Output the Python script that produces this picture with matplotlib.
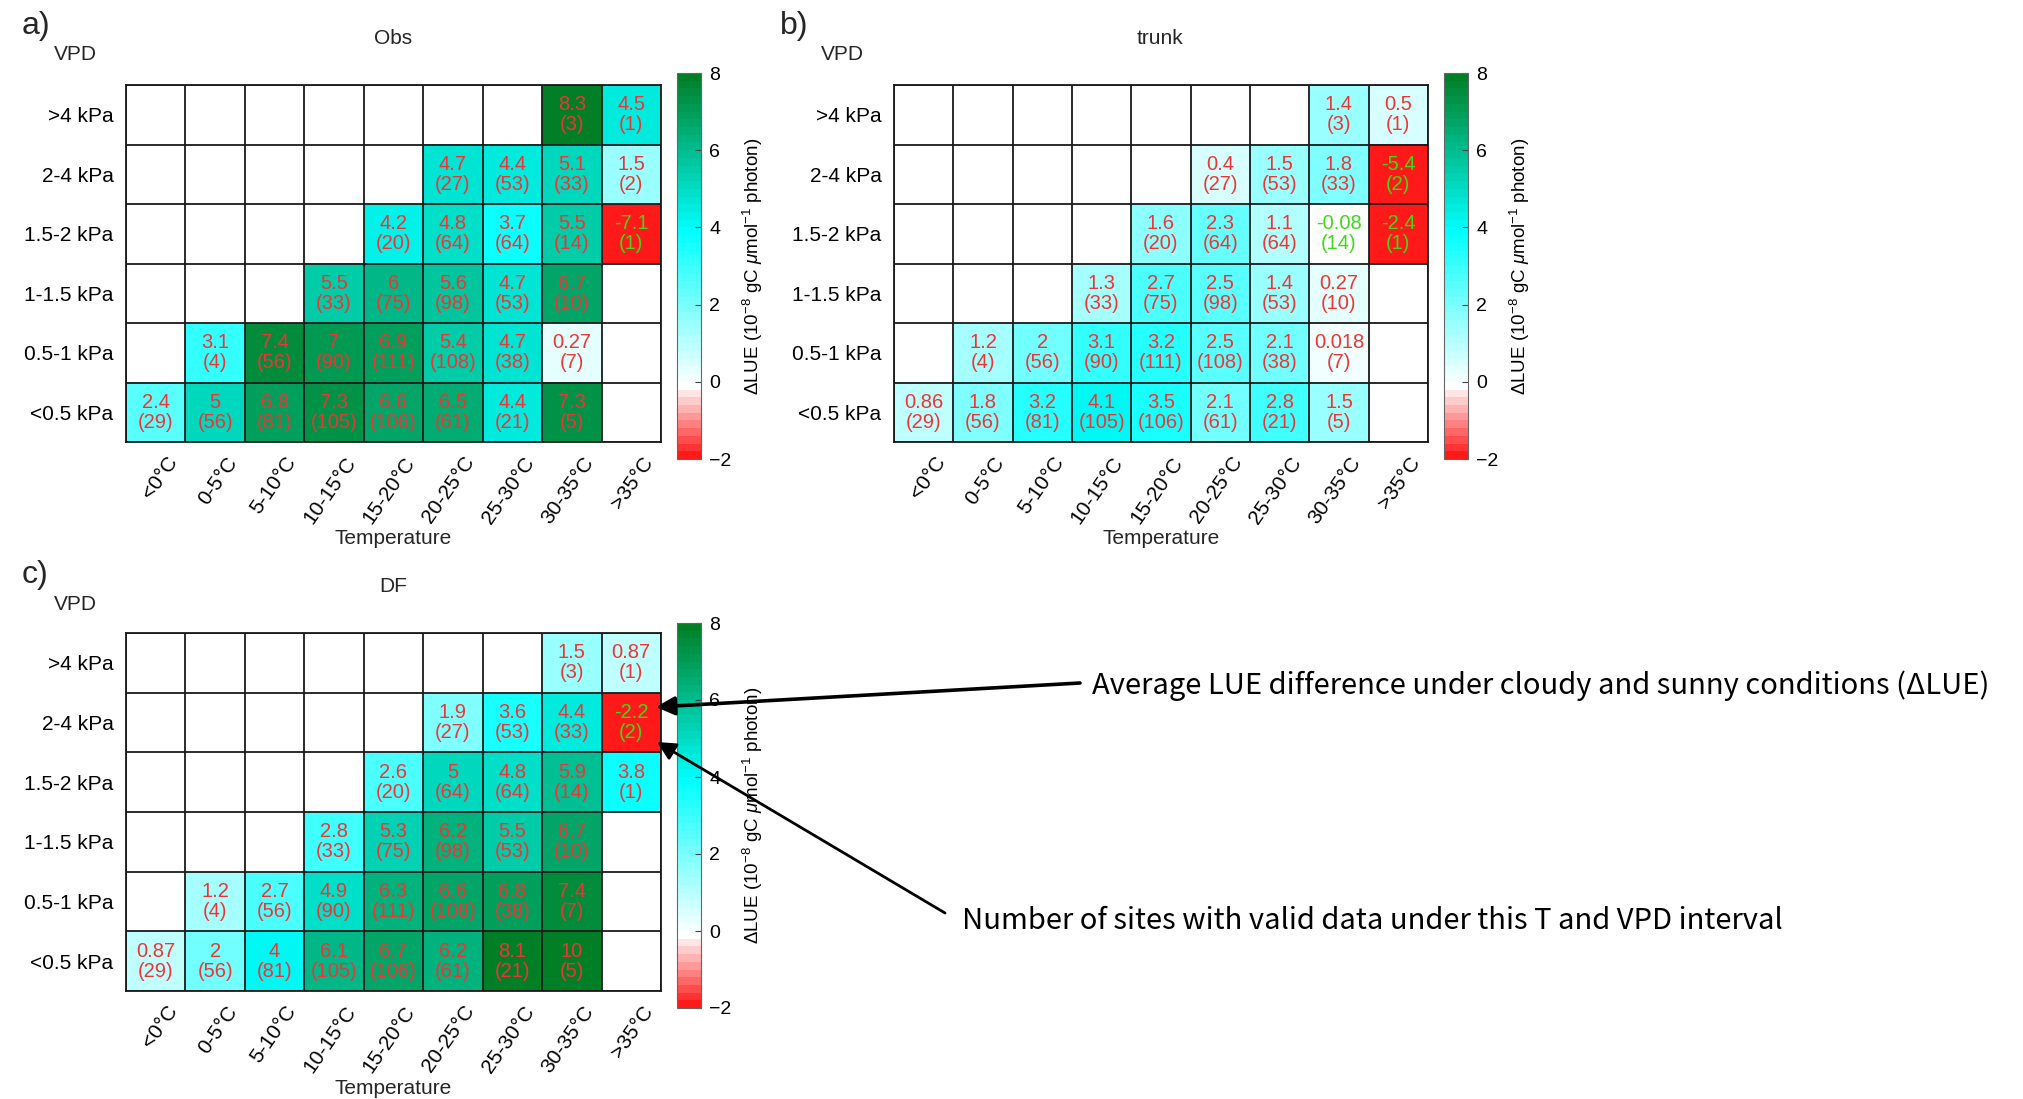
import numpy as np
import matplotlib
matplotlib.use('Agg')
import matplotlib.pyplot as plt
from matplotlib.colors import ListedColormap
import matplotlib.transforms as mtransforms

plt.rcParams['font.family'] = ['Liberation Sans', 'DejaVu Sans']
plt.rcParams['mathtext.fontset'] = 'custom'
plt.rcParams['mathtext.rm'] = 'Liberation Sans'
plt.rcParams['mathtext.it'] = 'Liberation Sans:italic'
plt.rcParams['text.color'] = '#262626'

# --- data ---
nan = np.nan
temp_labels = ['<0°C', '0-5°C', '5-10°C', '10-15°C', '15-20°C',
               '20-25°C', '25-30°C', '30-35°C', '>35°C']
vpd_labels = ['>4 kPa', '2-4 kPa', '1.5-2 kPa', '1-1.5 kPa', '0.5-1 kPa', '<0.5 kPa']

# number of sites (rows: VPD from high to low, cols: temperature)
site_counts = [
    [nan, nan, nan, nan, nan, nan, nan, 3, 1],
    [nan, nan, nan, nan, nan, 27, 53, 33, 2],
    [nan, nan, nan, nan, 20, 64, 64, 14, 1],
    [nan, nan, nan, 33, 75, 98, 53, 10, nan],
    [nan, 4, 56, 90, 111, 108, 38, 7, nan],
    [29, 56, 81, 105, 106, 61, 21, 5, nan],
]

obs_dlue = [
    [nan, nan, nan, nan, nan, nan, nan, 8.3, 4.5],
    [nan, nan, nan, nan, nan, 4.7, 4.4, 5.1, 1.5],
    [nan, nan, nan, nan, 4.2, 4.8, 3.7, 5.5, -7.1],
    [nan, nan, nan, 5.5, 6, 5.6, 4.7, 6.7, nan],
    [nan, 3.1, 7.4, 7, 6.9, 5.4, 4.7, 0.27, nan],
    [2.4, 5, 6.8, 7.3, 6.6, 6.5, 4.4, 7.3, nan],
]

trunk_dlue = [
    [nan, nan, nan, nan, nan, nan, nan, 1.4, 0.5],
    [nan, nan, nan, nan, nan, 0.4, 1.5, 1.8, -5.4],
    [nan, nan, nan, nan, 1.6, 2.3, 1.1, -0.08, -2.4],
    [nan, nan, nan, 1.3, 2.7, 2.5, 1.4, 0.27, nan],
    [nan, 1.2, 2, 3.1, 3.2, 2.5, 2.1, 0.018, nan],
    [0.86, 1.8, 3.2, 4.1, 3.5, 2.1, 2.8, 1.5, nan],
]

df_dlue = [
    [nan, nan, nan, nan, nan, nan, nan, 1.5, 0.87],
    [nan, nan, nan, nan, nan, 1.9, 3.6, 4.4, -2.2],
    [nan, nan, nan, nan, 2.6, 5, 4.8, 5.9, 3.8],
    [nan, nan, nan, 2.8, 5.3, 6.2, 5.5, 6.7, nan],
    [nan, 1.2, 2.7, 4.9, 6.3, 6.6, 6.8, 7.4, nan],
    [0.87, 2, 4, 6.1, 6.7, 6.2, 8.1, 10, nan],
]

# --- style ---
W, H = 2023, 1099
RED_TXT = '#f03434'
GREEN_TXT = '#3fd81c'

# 50 discrete levels over -2..8: 10 red->white, 40 white->cyan->green
red = np.array([1, 0.1, 0.1])
white = np.array([1, 1, 1])
cyan = np.array([0, 1, 1])
green = np.array([0, 0.5, 0.15])
cols = [red + (white - red) * t for t in np.linspace(0, 1, 10)]
cols += [white + (cyan - white) * t for t in np.linspace(0.05, 1, 20)]
cols += [cyan + (green - cyan) * t for t in np.linspace(0.05, 1, 20)]
cmap = ListedColormap(cols)
cmap.set_bad('white')


def fbox(left, top, right, bottom):
    return [left / W, 1 - bottom / H, (right - left) / W, (bottom - top) / H]


def draw_panel(fig, ax_box, cax_box, values, title, letter, title_x, letter_x, vpd_x, top):
    vals = np.array(values, dtype=float)
    counts = np.array(site_counts, dtype=float)
    ax = fig.add_axes(ax_box)
    im = ax.imshow(np.ma.masked_invalid(vals), cmap=cmap, vmin=-2, vmax=8,
                   aspect='auto', interpolation='nearest')
    nr, nc = vals.shape
    for i in range(nr):
        for j in range(nc):
            if np.isnan(vals[i, j]):
                continue
            col = GREEN_TXT if vals[i, j] < 0 else RED_TXT
            ax.text(j, i, f"{vals[i, j]:.2g}\n({int(counts[i, j])})", ha='center',
                    va='center', fontsize=14.5, color=col, linespacing=1.05)
    ax.set_xticks(np.arange(nc + 1) - 0.5, minor=True)
    ax.set_yticks(np.arange(nr + 1) - 0.5, minor=True)
    ax.grid(which='minor', color='#1a1a1a', linewidth=1.3)
    ax.tick_params(which='both', length=0)
    ax.set_xticks(np.arange(nc))
    ax.set_yticks(np.arange(nr))
    ax.set_yticklabels(vpd_labels, fontsize=15)
    ax.tick_params(axis='y', pad=9)
    ax.set_xticklabels(temp_labels, fontsize=15, rotation=55, ha='right',
                       rotation_mode='anchor')
    ax.tick_params(axis='x', pad=8)
    offset = mtransforms.ScaledTranslation(10 / 100, 0, fig.dpi_scale_trans)
    for lab in ax.get_xticklabels():
        lab.set_transform(lab.get_transform() + offset)
    for s in ax.spines.values():
        s.set_linewidth(1.3)
        s.set_color('#1a1a1a')

    cax = fig.add_axes(cax_box)
    cb = fig.colorbar(im, cax=cax, ticks=[-2, 0, 2, 4, 6, 8])
    cb.ax.tick_params(direction='in', length=4, labelsize=14, pad=6, color='#404040')
    cb.outline.set_edgecolor('#666666')
    cb.set_label(r'$\Delta$LUE (10$^{-8}$ gC $\mu$mol$^{-1}$ photon)', fontsize=13.5,
                 labelpad=7)

    fig.text(title_x / W, 1 - top / H, title, fontsize=15, ha='center', va='center')
    fig.text(letter_x / W, 1 - (top - 12) / H, letter, fontsize=23, ha='left', va='center')
    fig.text(vpd_x / W, 1 - (top + 17) / H, 'VPD', fontsize=15, ha='center', va='center')
    xc = (ax_box[0] + ax_box[2] / 2)
    fig.text(xc, 1 - (top + 501) / H, 'Temperature', fontsize=15, ha='center', va='center')
    return ax


fig = plt.figure(figsize=(W / 100, H / 100), dpi=100)

draw_panel(fig, fbox(126, 85, 661, 442), fbox(677, 73, 701, 459), obs_dlue,
           'Obs', 'a)', 393, 22, 75, 38)
draw_panel(fig, fbox(894, 85, 1428, 442), fbox(1444, 73, 1468, 459), trunk_dlue,
           'trunk', 'b)', 1160, 780, 842, 38)
draw_panel(fig, fbox(126, 633, 661, 991), fbox(677, 623, 701, 1008), df_dlue,
           'DF', 'c)', 393, 22, 75, 587)

# annotation overlay
ov = fig.add_axes([0, 0, 1, 1], zorder=10)
ov.set_xlim(0, W)
ov.set_ylim(H, 0)
ov.axis('off')
ov.patch.set_alpha(0)
ann_font = ['Noto Sans CJK SC', 'DejaVu Sans']
ov.annotate('', xy=(656, 707), xytext=(1080, 683),
            arrowprops=dict(arrowstyle='-|>', color='black', lw=2.6, mutation_scale=28,
                            shrinkA=0, shrinkB=0))
ov.annotate('', xy=(657, 742), xytext=(945, 913),
            arrowprops=dict(arrowstyle='-|>', color='black', lw=2.0, mutation_scale=28,
                            shrinkA=0, shrinkB=0))
ov.text(1092, 686, 'Average LUE difference under cloudy and sunny conditions (ΔLUE)',
        fontsize=21, va='center', ha='left', family=ann_font, color='black')
ov.text(962, 921, 'Number of sites with valid data under this T and VPD interval',
        fontsize=21, va='center', ha='left', family=ann_font, color='black')

fig.savefig('out.png', dpi=100)
